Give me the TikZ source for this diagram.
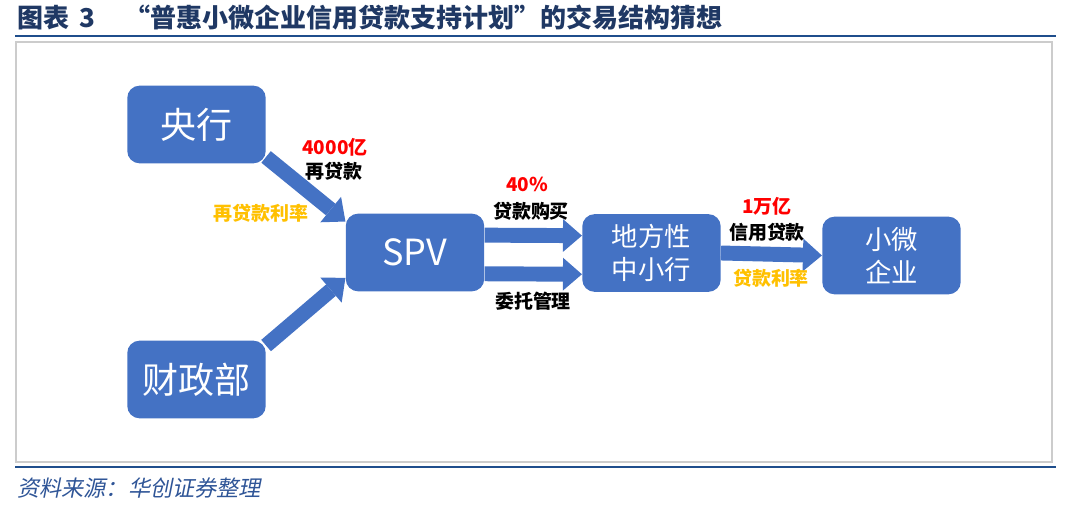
\documentclass[tikz,border=0pt]{standalone}
\usepackage{fontspec}
\setmainfont{Noto Sans CJK SC}
\newfontfamily\srcfont[FakeSlant=0.2]{Noto Sans CJK SC}
\usetikzlibrary{arrows.meta}
\definecolor{boxblue}{HTML}{4472C4}
\definecolor{titleblue}{HTML}{1F3864}
\definecolor{lineblue}{HTML}{1F4E8C}
\definecolor{srcblue}{HTML}{2F5597}
\definecolor{numred}{HTML}{FF0000}
\definecolor{rategold}{HTML}{FFC000}
\begin{document}
\begin{tikzpicture}[x=0.02cm, y=-0.02cm,
  party/.style={rectangle, rounded corners=7pt, fill=boxblue, text=white, minimum width=78.8pt, minimum height=44.2pt, align=center, inner sep=0pt},
  big/.style={font=\fontsize{20.5}{24}\selectfont},
  mid/.style={font=\fontsize{15}{19}\selectfont},
  flow/.style={boxblue, line width=8.5pt, -{Triangle[width=18.7pt,length=10.8pt,line width=0pt]}},
  lbl/.style={font=\fontsize{10.8}{13}\selectfont\bfseries, inner sep=0pt},
  ttl/.style={anchor=west, text=titleblue, font=\fontsize{14.8}{17}\selectfont\bfseries, inner sep=0pt}]
\useasboundingbox (0,0) rectangle (1080,506);
\node[ttl] (fig) at (17,18) {图表 \,3};
\node[ttl] (cap) at (124,18) {“普惠小微企业信用贷款支持计划”的交易结构猜想};
\draw[lineblue, line width=1.4pt] (15,36) -- (1056,36);
\draw[gray!40, line width=1pt] (16,42) rectangle (1052,462);
\draw[lineblue, line width=1.4pt] (15,467) -- (1056,467);
\node[anchor=west, text=srcblue, font=\srcfont\fontsize{12.6}{15}\selectfont, inner sep=0pt] (src) at (17,488) {资料来源：华创证券整理};

\node[party, big] (yh) at (196.5,124.5) {央行};
\node[party, big] (czb) at (196.5,379.5) {财政部};
\node[party, big] (spv) at (415,252.5) {SPV};
\node[party, mid] (dfh) at (651.5,253) {地方性\\中小行};
\node[party, mid] (xw) at (891.5,255.5) {小微\\企业};

\draw[flow] (yh.-25) -- (spv.156);
\draw[flow] (czb.26) -- (spv.200);
\draw[flow] (spv.14) -- (dfh.166);
\draw[flow] (spv.-17) -- (dfh.197);
\draw[flow] (dfh.east) -- (xw.west);

\node[lbl, text=numred] (amt1) at (335,147) {4000亿};
\node[lbl] (zdk) at (334,171) {再贷款};
\node[lbl, text=rategold] (rate1) at (261,213) {再贷款利率};
\node[lbl, text=numred] (amt2) at (527,184) {40\%};
\node[lbl] (dkgm) at (531,211) {贷款购买};
\node[lbl] (wtgl) at (533,301) {委托管理};
\node[lbl, text=numred] (amt3) at (767,206) {1万亿};
\node[lbl] (xydk) at (767,232) {信用贷款};
\node[lbl, text=rategold] (rate2) at (771,278) {贷款利率};
\end{tikzpicture}
\end{document}
